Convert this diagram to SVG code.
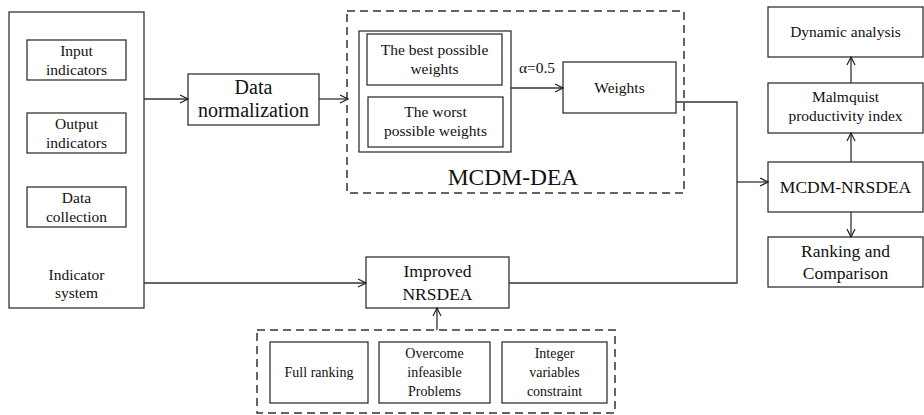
<svg xmlns="http://www.w3.org/2000/svg" width="924" height="415" viewBox="0 0 924 415">
<defs>
<marker id="arr" markerWidth="10" markerHeight="10" refX="9" refY="5" orient="auto" markerUnits="userSpaceOnUse">
<path d="M1,1 L9,5 L1,9" fill="none" stroke="#222" stroke-width="1.2"/>
</marker>
</defs>
<style>
.box{fill:#fff;stroke:#333;stroke-width:1.3}
.dash{fill:none;stroke:#333;stroke-width:1.5;stroke-dasharray:8,5}
.ln{fill:none;stroke:#333;stroke-width:1.3}
text{font-family:"Liberation Serif","Times New Roman",serif;fill:#111;text-anchor:middle}
.s{font-size:15.5px}
.t{font-size:14px}
.m{font-size:17.5px}
.l{font-size:20px}
.xl{font-size:23.5px}
</style>
<rect width="924" height="415" fill="#fff"/>
<g id="indicator-system">
<rect class="box" x="9" y="12" width="135" height="296"/>
<text class="s" x="76.5" y="280">Indicator</text>
<text class="s" x="76.5" y="298">system</text>
</g>
<g id="input-indicators">
<rect class="box" x="27" y="40" width="99" height="40"/>
<text class="s" x="76.5" y="55.5">Input</text>
<text class="s" x="76.5" y="74.5">indicators</text>
</g>
<g id="output-indicators">
<rect class="box" x="27" y="113" width="99" height="40"/>
<text class="s" x="76.5" y="128.5">Output</text>
<text class="s" x="76.5" y="147.5">indicators</text>
</g>
<g id="data-collection">
<rect class="box" x="27" y="187" width="99" height="40"/>
<text class="s" x="76.5" y="202.5">Data</text>
<text class="s" x="76.5" y="221.5">collection</text>
</g>
<g id="data-normalization">
<rect class="box" x="188" y="74" width="131" height="51"/>
<text class="l" x="253.5" y="94">Data</text>
<text class="l" x="253.5" y="117">normalization</text>
</g>
<g id="mcdm-dea">
<rect class="dash" x="347" y="11" width="337" height="182"/>
<text class="xl" x="513" y="185">MCDM-DEA</text>
</g>
<g id="possible-weights">
<rect class="box" x="359" y="31" width="152" height="121" stroke-width="1.8"/>
</g>
<g id="best-weights">
<rect class="box" x="367" y="34" width="135" height="51"/>
<text class="s" x="434.5" y="55">The best possible</text>
<text class="s" x="434.5" y="74">weights</text>
</g>
<g id="worst-weights">
<rect class="box" x="368" y="97" width="135" height="50"/>
<text class="s" x="435.5" y="117">The worst</text>
<text class="s" x="435.5" y="136">possible weights</text>
</g>
<g id="weights">
<rect class="box" x="563" y="62" width="113" height="51"/>
<text class="s" x="619.5" y="93">Weights</text>
</g>
<g id="dynamic-analysis">
<rect class="box" x="768" y="7" width="155" height="50"/>
<text class="s" x="845.5" y="37">Dynamic analysis</text>
</g>
<g id="malmquist">
<rect class="box" x="768" y="83" width="155" height="50"/>
<text class="s" x="845.5" y="102">Malmquist</text>
<text class="s" x="845.5" y="121">productivity index</text>
</g>
<g id="mcdm-nrsdea">
<rect class="box" x="768" y="162" width="155" height="50"/>
<text class="m" x="845.5" y="193">MCDM-NRSDEA</text>
</g>
<g id="ranking">
<rect class="box" x="768" y="237" width="155" height="50"/>
<text class="m" x="845.5" y="257">Ranking and</text>
<text class="m" x="845.5" y="279">Comparison</text>
</g>
<g id="improved-nrsdea">
<rect class="box" x="366" y="257" width="143" height="51"/>
<text class="m" x="437.5" y="277">Improved</text>
<text class="m" x="437.5" y="300">NRSDEA</text>
</g>
<g id="nrsdea-features">
<rect class="dash" x="257" y="330" width="358" height="83"/>
</g>
<g id="full-ranking">
<rect class="box" x="270" y="342" width="98" height="61"/>
<text class="t" x="319" y="377">Full ranking</text>
</g>
<g id="overcome">
<rect class="box" x="379" y="342" width="111" height="61"/>
<text class="t" x="434.5" y="358">Overcome</text>
<text class="t" x="434.5" y="377">infeasible</text>
<text class="t" x="434.5" y="396">Problems</text>
</g>
<g id="integer">
<rect class="box" x="502" y="342" width="105" height="61"/>
<text class="t" x="554.5" y="358">Integer</text>
<text class="t" x="554.5" y="377">variables</text>
<text class="t" x="554.5" y="396">constraint</text>
</g>
<g id="connectors">
<line class="ln" x1="144" y1="99" x2="188" y2="99" marker-end="url(#arr)"/>
<line class="ln" x1="319" y1="99" x2="348" y2="99" marker-end="url(#arr)"/>
<line class="ln" x1="511" y1="88" x2="563" y2="88" marker-end="url(#arr)"/>
<text class="s" x="537" y="73">α=0.5</text>
<polyline class="ln" points="676,102 737,102 737,283 509,283"/>
<line class="ln" x1="737" y1="182" x2="768" y2="182" marker-end="url(#arr)"/>
<line class="ln" x1="144" y1="283" x2="366" y2="283" marker-end="url(#arr)"/>
<line class="ln" x1="437" y1="330" x2="437" y2="308" marker-end="url(#arr)"/>
<line class="ln" x1="851" y1="162" x2="851" y2="133" marker-end="url(#arr)"/>
<line class="ln" x1="851" y1="83" x2="851" y2="57" marker-end="url(#arr)"/>
<line class="ln" x1="851" y1="212" x2="851" y2="237" marker-end="url(#arr)"/>
</g>
</svg>
